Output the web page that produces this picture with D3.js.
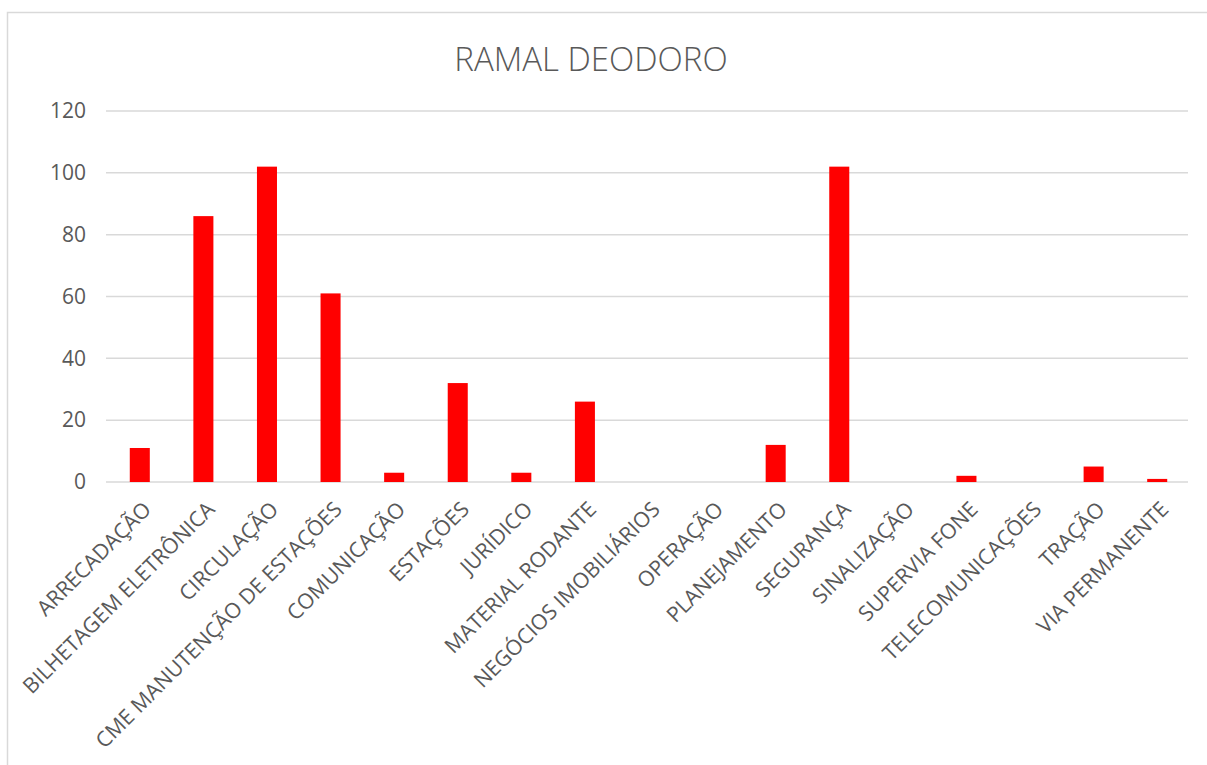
<!DOCTYPE html>
<html>
<head>
<meta charset="utf-8">
<script src="https://cdn.jsdelivr.net/npm/d3@7"></script>
<style>
  body { margin: 0; background: #fff; }
  text { font-family: "Open Sans", sans-serif; fill: #595959; }
</style>
</head>
<body>
<svg id="chart"></svg>
<script>
const categories = ["ARRECADAÇÃO", "BILHETAGEM ELETRÔNICA", "CIRCULAÇÃO", "CME MANUTENÇÃO DE ESTAÇÕES",
  "COMUNICAÇÃO", "ESTAÇÕES", "JURÍDICO", "MATERIAL RODANTE", "NEGÓCIOS IMOBILIÁRIOS", "OPERAÇÃO",
  "PLANEJAMENTO", "SEGURANÇA", "SINALIZAÇÃO", "SUPERVIA FONE", "TELECOMUNICAÇÕES", "TRAÇÃO", "VIA PERMANENTE"];
const values = [11, 86, 102, 61, 3, 32, 3, 26, 0, 0, 12, 102, 0, 2, 0, 5, 1];
const yTicks = [0, 20, 40, 60, 80, 100, 120];

const svgWidth = 1207, svgHeight = 765;
const margin = { top: 111, right: 19, bottom: 283, left: 106 };

const svg = d3.select("#chart")
  .attr("width", svgWidth)
  .attr("height", svgHeight);

// chart area border (only left and top visible)
svg.append("path")
  .attr("d", `M7.5,${svgHeight} V12.5 H${svgWidth}`)
  .attr("fill", "none")
  .attr("stroke", "#d9d9d9")
  .attr("stroke-width", 1.5);

const xScale = d3.scaleBand()
  .domain(categories)
  .range([margin.left + 2, svgWidth - margin.right + 1])
  .paddingInner(0.685)
  .paddingOuter(0.3425);

const yScale = d3.scaleLinear()
  .domain([0, 120])
  .range([svgHeight - margin.bottom, margin.top]);

// gridlines
svg.append("g")
  .selectAll("line")
  .data(yTicks)
  .enter()
  .append("line")
  .attr("x1", margin.left)
  .attr("x2", svgWidth - margin.right)
  .attr("y1", d => yScale(d))
  .attr("y2", d => yScale(d))
  .attr("stroke", "#d9d9d9")
  .attr("stroke-width", 1.5);

const yAxis = d3.axisLeft(yScale)
  .tickValues(yTicks)
  .tickSize(0)
  .tickPadding(20);

svg.append("g")
  .attr("transform", `translate(${margin.left}, 0)`)
  .call(yAxis)
  .call(g => g.select(".domain").remove())
  .selectAll("text")
  .style("font-family", "\"Open Sans\", sans-serif")
  .style("font-size", "21px")
  .attr("fill", "#595959");

svg.append("g")
  .selectAll("rect")
  .data(values)
  .enter()
  .append("rect")
  .attr("x", (d, i) => xScale(categories[i]))
  .attr("y", d => yScale(d))
  .attr("width", xScale.bandwidth())
  .attr("height", d => yScale(0) - yScale(d))
  .attr("fill", "#ff0000");

// category labels, rotated like Excel
svg.append("g")
  .selectAll("text")
  .data(categories)
  .enter()
  .append("text")
  .attr("transform", d => `translate(${xScale(d) + xScale.bandwidth() / 2 + 2}, 500) rotate(-45)`)
  .attr("text-anchor", "end")
  .attr("dy", "0.71em")
  .style("font-size", "21.3px")
  .text(d => d);

svg.append("text")
  .attr("x", 591)
  .attr("y", 71)
  .attr("text-anchor", "middle")
  .style("font-size", "33px")
  .style("font-weight", 300)
  .text("RAMAL DEODORO");
</script>
</body>
</html>
